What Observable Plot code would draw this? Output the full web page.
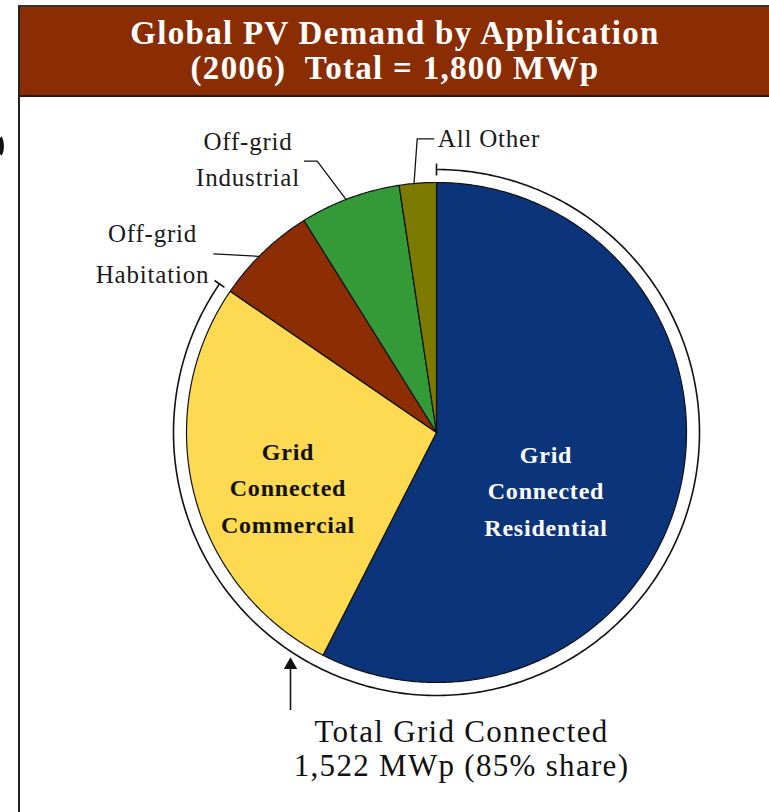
<!DOCTYPE html>
<html>
<head>
<meta charset="utf-8">
<script src="https://cdn.jsdelivr.net/npm/d3@7"></script>
<script src="https://cdn.jsdelivr.net/npm/@observablehq/plot@0.6"></script>
<style>
  html, body { margin: 0; padding: 0; background: #fff; overflow: hidden; width: 769px; height: 812px; }
  /* clipped parenthesis-like stroke peeking in at the left edge */
  #edge-curve { position: absolute; left: -8px; top: 134px; width: 12px; height: 24px; box-sizing: border-box;
                border: 4.5px solid #111; border-left-color: transparent; border-top-color: transparent;
                border-bottom-color: transparent; border-radius: 50%; }
  #frame { position: absolute; left: 18px; top: 5px; width: 760px; height: 840px;
           border-left: 2px solid #222; border-top: 2px solid #333; }
  #banner { height: 90px; box-sizing: border-box; background: #8b2d02; border-bottom: 2px solid #2a1508;
            color: #fff; font: bold 33px/35px "Liberation Serif", "Times New Roman", serif; letter-spacing: 1.3px;
            text-align: center; padding: 8.9px 10px 0 0; white-space: pre; }
  #chart svg { display: block; }
  g[aria-description="slice labels"], g[aria-description="outer labels"], g[aria-description="other label"] { letter-spacing: 0.8px; }
  g[aria-description="grid total"] { letter-spacing: 1.3px; }
</style>
</head>
<body>
<div id="edge-curve"></div>
<div id="frame">
  <div id="banner"></div>
  <div id="chart"></div>
</div>
<script>
// ---- data -------------------------------------------------------------
const year = 2006;
const applications = [
  "Grid Connected Residential",
  "Grid Connected Commercial",
  "Off-grid Habitation",
  "Off-grid Industrial",
  "All Other"
];
const demandMWp = [1035, 487, 118, 117, 43];
const sliceColors = ["#0c347a", "#fdda52", "#8c2d03", "#349a38", "#7d7a00"];
const gridConnectedCount = 2;           // first two applications are grid connected
const sliceLabels = ["Grid\nConnected\nResidential", "Grid\nConnected\nCommercial"];
const offGridLabels = ["Off-grid\nHabitation", "Off-grid\nIndustrial", "All Other"];

const total = d3.sum(demandMWp);
const gridTotal = d3.sum(demandMWp.slice(0, gridConnectedCount));
const fmt = d3.format(",");

document.getElementById("banner").textContent =
  `Global PV Demand by Application\n(${year})  Total = ${fmt(total)} MWp`;

// ---- layout -----------------------------------------------------------
const W = 749, H = 715;     // svg size
const cx = 416, cy = 335;   // pie centre inside the svg
const R = 250;              // pie radius
const bracketR = R + 13;    // bracket arc around the grid-connected share

const rows = applications.map((name, i) => ({name, value: demandMWp[i], color: sliceColors[i]}));
const arcs = d3.pie().sort(null).value(d => d.value)(rows);
const polar = (a, r) => ({x: r * Math.sin(a), y: r * Math.cos(a)});

// wedge outlines: centre + points along the rim
const wedges = arcs.flatMap(a => {
  const n = Math.max(2, Math.ceil((a.endAngle - a.startAngle) / (Math.PI / 360)));
  const pts = [{key: a.data.name, color: a.data.color, ...polar(0, 0)}];
  for (let i = 0; i <= n; ++i) {
    const t = a.startAngle + (a.endAngle - a.startAngle) * i / n;
    pts.push({key: a.data.name, color: a.data.color, ...polar(t, R)});
  }
  return pts;
});

// bracket spanning the grid-connected slices
const gridEnd = arcs[gridConnectedCount - 1].endAngle;
const bracket = d3.range(0, 361).map(i => polar(gridEnd * i / 360, bracketR));
const bracketTicks = [0, gridEnd].map(a => ({a}));

// arrow from the caption up to the bracket
const arrowX = -146;
const arrowTip = -Math.sqrt(bracketR * bracketR - arrowX * arrowX) - 6;
const arrowHead = [{x: arrowX, y: arrowTip - 7.8}];
const arrowShaft = [{x: arrowX, y1: arrowTip - 8, y2: -278}];

// labels inside the two large slices
const innerLabels = [
  {text: sliceLabels[0], x: 109.5, y: -55.3, color: "#ffffff"},
  {text: sliceLabels[1], x: -148.5, y: -52, color: "#111111"}
];

// labels for the small off-grid slices, with leader lines to the rim
const sliceAt = (i, f) => {
  const a = arcs[i];
  return polar(a.startAngle + (a.endAngle - a.startAngle) * f, R);
};
const outerLabels = [
  {text: offGridLabels[0], x: -284, y: 190.3, gap: 40.3},
  {text: offGridLabels[1], x: -188.5, y: 283, gap: 36.7}
];
const outerLines = outerLabels.flatMap(d =>
  d.text.split("\n").map((t, j) => ({text: t, x: d.x, y: d.y - j * d.gap + 8}))
);
const otherLabel = [{text: offGridLabels[2], x: 1.3, y: 285.3 + 8}];

const leaders = [
  [{x: -222.7, y: 178.7}, sliceAt(2, 0.44)],
  [{x: -132, y: 271.3}, {x: -119.3, y: 271.3}, sliceAt(3, 0.46)],
  [{x: -2.7, y: 293.7}, {x: -19.3, y: 293.7}, sliceAt(4, 0.4)]
].flatMap((pts, k) => pts.map(p => ({...p, k})));

const caption = [{
  text: `Total Grid Connected\n${fmt(gridTotal)} MWp (${Math.round(100 * gridTotal / total)}% share)`,
  x: 25, y: -315.2
}];

const chart = Plot.plot({
  width: W,
  height: H,
  margin: 0,
  x: {domain: [-cx, W - cx], range: [0, W], axis: null},
  y: {domain: [cy, cy - H], range: [0, H], axis: null},
  color: {type: "identity"},
  style: {background: "transparent", fontFamily: "'Liberation Serif', 'Times New Roman', serif", overflow: "visible"},
  marks: [
    Plot.line(wedges, {x: "x", y: "y", z: "key", fill: "color", stroke: "#111", strokeWidth: 1.2,
      strokeLinejoin: "round", curve: "linear-closed"}),
    Plot.line(bracket, {x: "x", y: "y", stroke: "#111", strokeWidth: 1.6}),
    Plot.link(bracketTicks, {
      x1: d => polar(d.a, R + 7).x, y1: d => polar(d.a, R + 7).y,
      x2: d => polar(d.a, R + 19).x, y2: d => polar(d.a, R + 19).y,
      stroke: "#111", strokeWidth: 1.6
    }),
    Plot.line(leaders, {x: "x", y: "y", z: "k", stroke: "#111", strokeWidth: 1.3}),
    Plot.ruleX(arrowShaft, {x: "x", y1: "y1", y2: "y2", stroke: "#111", strokeWidth: 1.6}),
    Plot.dot(arrowHead, {x: "x", y: "y", symbol: "triangle", r: 5, fill: "#111", stroke: "none"}),
    Plot.text(innerLabels, {x: "x", y: "y", text: "text", fill: "color", fontSize: 24, fontWeight: "bold",
      lineHeight: 1.52, lineAnchor: "middle", textAnchor: "middle", ariaDescription: "slice labels"}),
    Plot.text(outerLines, {x: "x", y: "y", text: "text", fill: "#1a1a1a", fontSize: 25,
      lineAnchor: "middle", textAnchor: "middle", ariaDescription: "outer labels"}),
    Plot.text(otherLabel, {x: "x", y: "y", text: "text", fill: "#1a1a1a", fontSize: 25,
      lineAnchor: "middle", textAnchor: "start", ariaDescription: "other label"}),
    Plot.text(caption, {x: "x", y: "y", text: "text", fill: "#111", fontSize: 31, lineHeight: 1.097,
      lineAnchor: "middle", textAnchor: "middle", ariaDescription: "grid total"})
  ]
});
document.getElementById("chart").append(chart);
</script>
</body>
</html>
